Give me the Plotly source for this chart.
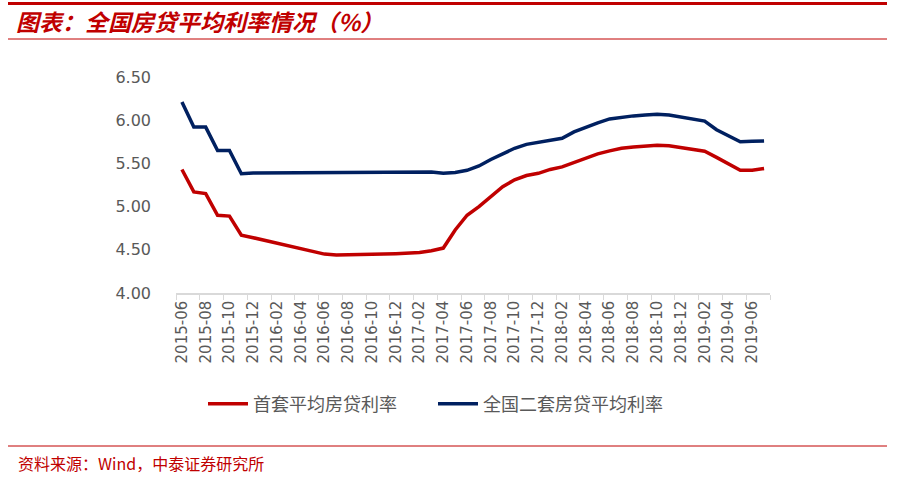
import plotly.graph_objects as go

months = []
for y in range(2015, 2020):
    for m in range(1, 13):
        if (y == 2015 and m < 6) or (y == 2019 and m > 7):
            continue
        months.append(f"{y}-{m:02d}")

first_home = [5.43, 5.17, 5.15, 4.90, 4.89, 4.67, 4.64, 4.61, 4.58, 4.55, 4.52, 4.49,
              4.45, 4.44, 4.44, 4.44, 4.44, 4.45, 4.455, 4.46, 4.47, 4.49, 4.52, 4.73,
              4.90, 5.00, 5.12, 5.23, 5.31, 5.36, 5.385, 5.43, 5.46, 5.51, 5.56, 5.61,
              5.645, 5.675, 5.69, 5.70, 5.71, 5.705, 5.685, 5.665, 5.64, 5.57, 5.49,
              5.42, 5.42, 5.44]
second_home = [6.21, 5.92, 5.92, 5.65, 5.65, 5.38, 5.39, 5.39, 5.39, 5.39, 5.39, 5.39,
               5.39, 5.39, 5.39, 5.39, 5.40, 5.40, 5.40, 5.40, 5.40, 5.40, 5.385, 5.395,
               5.42, 5.47, 5.545, 5.615, 5.675, 5.72, 5.74, 5.765, 5.79, 5.865, 5.92,
               5.97, 6.015, 6.035, 6.05, 6.06, 6.07, 6.06, 6.04, 6.02, 5.99, 5.89, 5.815,
               5.75, 5.755, 5.76]
y_ticks = [4.0, 4.5, 5.0, 5.5, 6.0, 6.5]
names = ["首套平均房贷利率", "全国二套房贷平均利率"]

W, H = 901, 479
L, R, T, B = 176, 770, 77, 293
def px(x):
    return (x - L) / (R - L)
def py(y):
    return (B - y) / (B - T)

RED = "#C00000"
BLUE = "#002060"
GRAY = "#595959"
FONT = "DejaVu Sans, sans-serif"
CJK = "Noto Sans CJK SC"

xs = list(range(len(months)))
fig = go.Figure()
fig.add_trace(go.Scatter(x=xs, y=first_home, mode="lines", name=names[0],
                         line=dict(color=RED, width=3.5)))
fig.add_trace(go.Scatter(x=xs, y=second_home, mode="lines", name=names[1],
                         line=dict(color=BLUE, width=3.5)))

fig.update_layout(
    width=W, height=H,
    margin=dict(l=L, r=W - R, t=T, b=H - B),
    paper_bgcolor="white", plot_bgcolor="white",
    showlegend=True,
    legend=dict(orientation="h", x=px(203), y=py(404), xanchor="left", yanchor="middle",
                font=dict(family=CJK, size=18, color=GRAY), itemwidth=40,
                traceorder="normal", entrywidth=175),
    xaxis=dict(range=[-0.5, len(months) - 0.5], tickvals=xs[::2], ticktext=months[::2],
               tickangle=-90, tickfont=dict(family=FONT, size=15, color=GRAY),
               ticks="", showgrid=False, zeroline=False, showline=True,
               linecolor="#D9D9D9", linewidth=1.5,
               minor=dict(tick0=-0.5, dtick=2, ticks="outside", ticklen=5,
                          tickcolor="#D9D9D9", tickwidth=1, showgrid=False)),
    yaxis=dict(range=[4.0, 6.5], tickvals=y_ticks, ticktext=[f"{v:.2f}" for v in y_ticks],
               tickfont=dict(family=FONT, size=16, color=GRAY), showgrid=False,
               zeroline=False, showline=False, ticklabelstandoff=24),
)

# title and decorations
fig.add_annotation(text="<b><i>图表：全国房贷平均利率情况（%）</i></b>", xref="paper", yref="paper",
                   x=px(14), y=py(21), xanchor="left", yanchor="middle", showarrow=False,
                   font=dict(family=CJK, size=23, color=RED))
fig.add_annotation(text="资料来源：Wind，中泰证券研究所", xref="paper", yref="paper",
                   x=px(16), y=py(463), xanchor="left", yanchor="middle", showarrow=False,
                   font=dict(family=CJK, size=16, color=RED))
fig.add_shape(type="line", xref="paper", yref="paper", x0=px(8), x1=px(887),
              y0=py(3.5), y1=py(3.5), line=dict(color=RED, width=3))
fig.add_shape(type="line", xref="paper", yref="paper", x0=px(8), x1=px(887),
              y0=py(39), y1=py(39), line=dict(color=RED, width=1))
fig.add_shape(type="line", xref="paper", yref="paper", x0=px(8), x1=px(887),
              y0=py(446), y1=py(446), line=dict(color=RED, width=1))

fig.write_html("out.html")
